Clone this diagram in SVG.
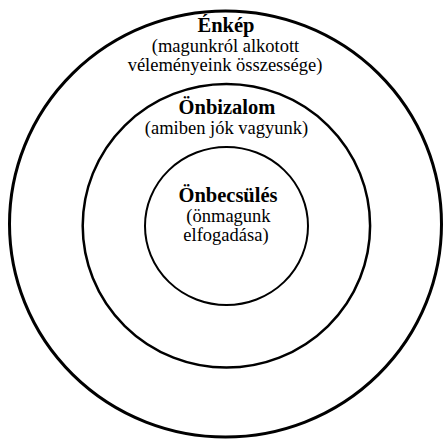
<svg xmlns="http://www.w3.org/2000/svg" width="445" height="439" viewBox="0 0 445 439">
<style>
.ring{fill:none;stroke:#000}
.t{font-family:'Liberation Serif','DejaVu Serif',serif;font-weight:bold;font-size:20.5px;fill:#000;text-anchor:middle}
.s{font-family:'Liberation Serif','DejaVu Serif',serif;font-size:18.5px;fill:#000;text-anchor:middle}
</style>
<rect width="445" height="439" fill="#fff"/>
<g id="enkep">
<ellipse class="ring" cx="225.5" cy="224" rx="216" ry="213" stroke-width="3"/>
<text class="t" x="226" y="32">Énkép</text>
<text class="s" x="225.5" y="52">(magunkról alkotott</text>
<text class="s" x="225" y="71">véleményeink összessége)</text>
</g>
<g id="onbizalom">
<ellipse class="ring" cx="226.4" cy="225.8" rx="143.7" ry="141.8" stroke-width="2.5"/>
<text class="t" x="227" y="114">Önbizalom</text>
<text class="s" x="226.5" y="134">(amiben jók vagyunk)</text>
</g>
<g id="onbecsules">
<ellipse class="ring" cx="226.5" cy="226" rx="81.5" ry="79" stroke-width="2"/>
<text class="t" x="228" y="202">Önbecsülés</text>
<text class="s" x="228.5" y="222">(önmagunk</text>
<text class="s" x="226" y="241">elfogadása)</text>
</g>
<g id="connectors"/>
</svg>
